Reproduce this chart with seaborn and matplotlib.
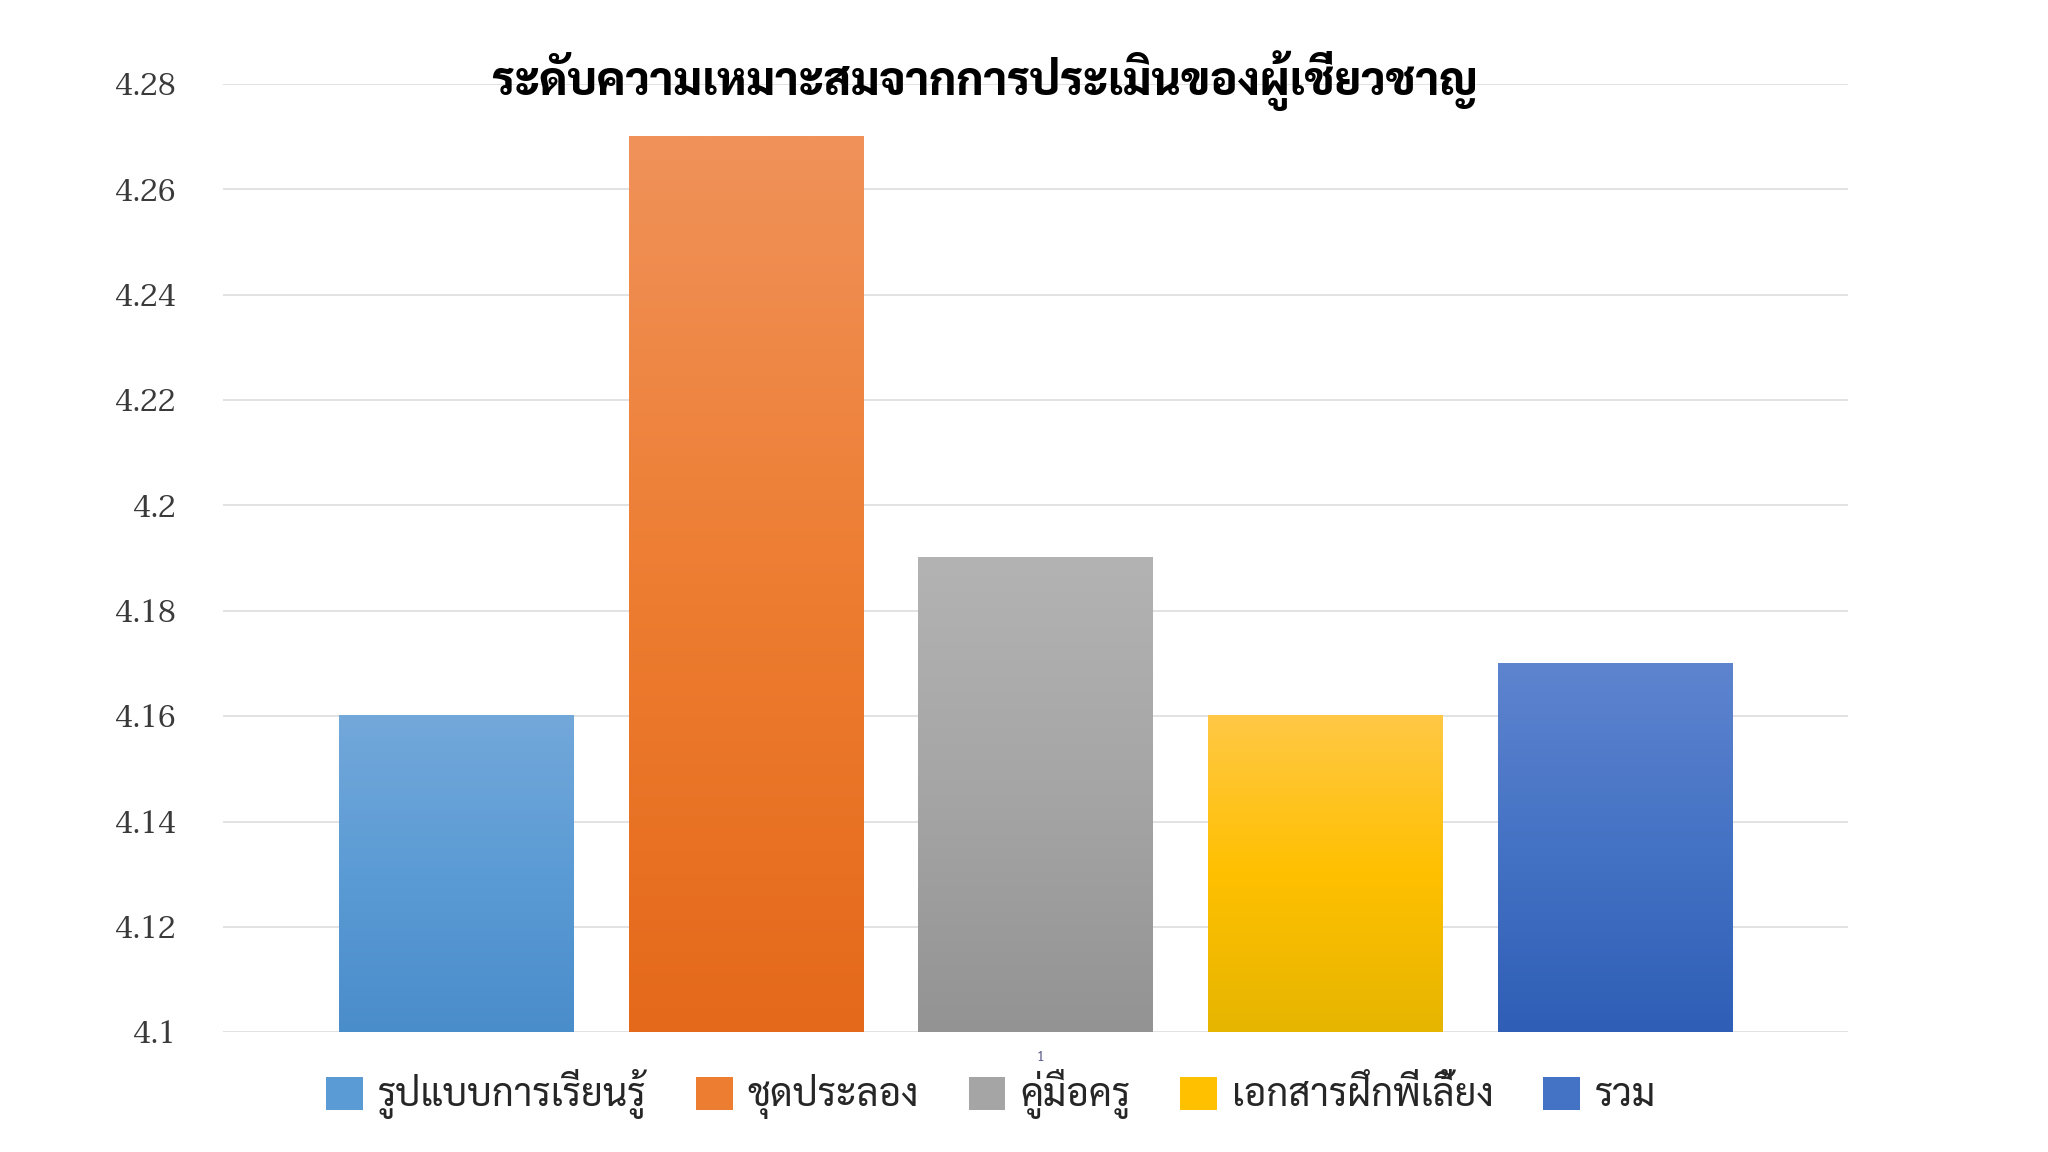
import matplotlib
matplotlib.use("Agg")
import matplotlib.pyplot as plt
import numpy as np
import pandas as pd
import seaborn as sns
from matplotlib.colors import LinearSegmentedColormap
from matplotlib.patches import Patch

# data
categories = ['รูปแบบการเรียนรู้', 'ชุดประลอง', 'คู่มือครู', 'เอกสารฝึกพี่เลี้ยง', 'รวม']
scores = [4.16, 4.27, 4.19, 4.16, 4.17]
y_ticks = [4.1, 4.12, 4.14, 4.16, 4.18, 4.2, 4.22, 4.24, 4.26, 4.28]
y_tick_labels = ['4.1', '4.12', '4.14', '4.16', '4.18', '4.2', '4.22', '4.24', '4.26', '4.28']
title = 'ระดับความเหมาะสมจากการประเมินของผู้เชี่ยวชาญ'

# office-like gradient: top tint, middle base, bottom shade
base_colors = ['#5B9BD5', '#ED7D31', '#A5A5A5', '#FFC000', '#4472C4']
top_colors = ['#73A8DA', '#F0925A', '#B3B3B3', '#FFC845', '#5E84CF']
bottom_colors = ['#4A8DCB', '#E5691A', '#939393', '#E6B500', '#2E5EB6']

df = pd.DataFrame({'category': categories, 'score': scores})

sns.set_style('white')
plt.rcParams['font.family'] = ['Sarabun', 'DejaVu Sans']

fig = plt.figure(figsize=(20.48, 11.52), dpi=100)
ax = fig.add_axes([0.1089, 0.104, 0.7935, 0.823])

sns.barplot(data=df, x='category', y='score', hue='category', palette=base_colors,
            width=0.808, legend=False, ax=ax, saturation=1)

y_min, y_max = 4.1, 4.28

# gradient fill over the visible part of each bar
for patch, c_top, c_mid, c_bot in zip(ax.patches, top_colors, base_colors, bottom_colors):
    x0, w = patch.get_x(), patch.get_width()
    top = patch.get_y() + patch.get_height()
    cmap = LinearSegmentedColormap.from_list('g', [c_top, c_mid, c_bot])
    grad = cmap(np.linspace(0, 1, 256))[:, None, :3]
    ax.imshow(grad, extent=[x0, x0 + w, y_min, top], origin='upper',
              aspect='auto', zorder=patch.get_zorder() + 0.1, interpolation='bilinear')
    patch.set_edgecolor('none')

ax.set_xlim(-0.804, 4.804)
ax.set_ylim(y_min, y_max)
ax.set_yticks(y_ticks)
ax.set_yticklabels(y_tick_labels, family=['Taviraj', 'Liberation Serif'],
                   fontsize=22, color='#3A3A3A')
ax.set_xticks([])
ax.set_xlabel('')
ax.set_ylabel('')
ax.tick_params(axis='y', length=0, pad=34)
ax.yaxis.grid(True, color='#E2E2E2', linewidth=1.4)
ax.set_axisbelow(True)
for s in ax.spines.values():
    s.set_visible(False)

fig.text(0.481, 0.930, title, ha='center', va='center', fontsize=32.5, fontweight='heavy', color='black')

handles = [Patch(facecolor=c, edgecolor='none') for c in base_colors]
fig.legend(handles, categories, loc='center', bbox_to_anchor=(0.484, 0.050), ncol=5, frameon=False,
           fontsize=27.5, handlelength=0.95, handleheight=0.95, handletextpad=0.4, columnspacing=1.3)

fig.text(0.508, 0.082, '1', ha='center', va='center', fontsize=10, color='#5A5A8A')

fig.savefig('out.png', dpi=100)
